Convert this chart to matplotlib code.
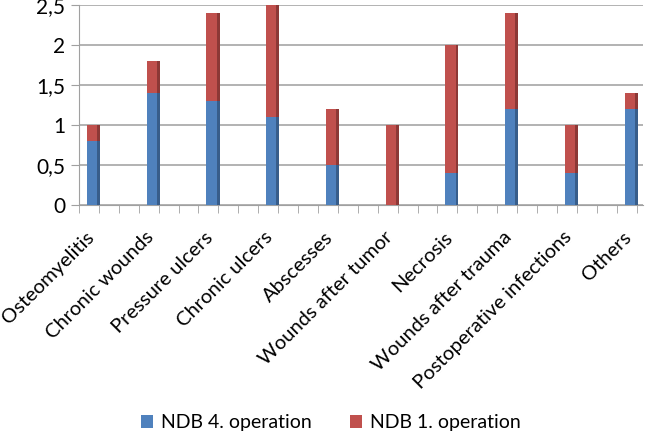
import matplotlib
matplotlib.use("Agg")
import matplotlib.pyplot as plt
import matplotlib.transforms as mtrans
import numpy as np

categories = ["Osteomyelitis", "Chronic wounds", "Pressure ulcers", "Chronic ulcers",
              "Abscesses", "Wounds after tumor", "Necrosis", "Wounds after trauma",
              "Postoperative infections", "Others"]
ndb4 = [0.8, 1.4, 1.3, 1.1, 0.5, 0.0, 0.4, 1.2, 0.4, 1.2]
ndb1 = [0.2, 0.4, 1.1, 1.4, 0.7, 1.0, 1.6, 1.2, 0.6, 0.2]
yticks = [0, 0.5, 1, 1.5, 2, 2.5]
ytick_labels = ["0", "0,5", "1", "1,5", "2", "2,5"]

plt.rcParams["font.family"] = ["Lato", "DejaVu Sans"]

blue, blue_dark = "#4f81bd", "#385d8a"
red, red_dark = "#c0504d", "#8c3836"

fig = plt.figure(figsize=(6.45, 4.36), dpi=100)
ax = fig.add_axes([0.1225, 0.53, 0.875, 0.4585])

x = np.arange(len(categories))
w = 0.17
side = 0.05
ndb4 = np.array(ndb4)
ndb1 = np.array(ndb1)

# front faces
ax.bar(x, ndb4, width=w, color=blue, zorder=3, label="NDB 4. operation")
ax.bar(x, ndb1, width=w, bottom=ndb4, color=red, zorder=3, label="NDB 1. operation")
# side faces for the 3d look
ax.bar(x + w / 2 + side / 2, ndb4, width=side, color=blue_dark, zorder=3)
ax.bar(x + w / 2 + side / 2, ndb1, width=side, bottom=ndb4, color=red_dark, zorder=3)

ax.set_xlim(-0.217, 9.23)
ax.set_ylim(0, 2.5)
ax.set_yticks(yticks)
ax.set_yticklabels(ytick_labels, fontsize=15)
ax.set_xticks(x)
ax.set_xticklabels(categories, rotation=45, ha="right", rotation_mode="anchor", fontsize=14.5)
ax.tick_params(axis="x", length=0, pad=17)
shift = mtrans.ScaledTranslation(-7 / 100, 0, fig.dpi_scale_trans)
for lab in ax.get_xticklabels():
    lab.set_transform(lab.get_transform() + shift)
ax.set_xticks(np.arange(-0.217, 9.3, 1 / 3), minor=True)
ax.tick_params(axis="x", which="minor", length=6, color="#a0a0a0")
ax.tick_params(axis="y", length=6, color="#a0a0a0", pad=4)

ax.grid(axis="y", color="#a6a6a6", linewidth=1.2, zorder=0)
for s in ["top", "right"]:
    ax.spines[s].set_visible(False)
for s in ["left", "bottom"]:
    ax.spines[s].set_color("#a0a0a0")

h, l = ax.get_legend_handles_labels()
fig.legend(h, l, loc="center", bbox_to_anchor=(0.513, 0.03), ncol=2, frameon=False,
           fontsize=14, handlelength=0.6, handleheight=0.6, columnspacing=2, handletextpad=0.4)

fig.savefig("out.png", dpi=100)
